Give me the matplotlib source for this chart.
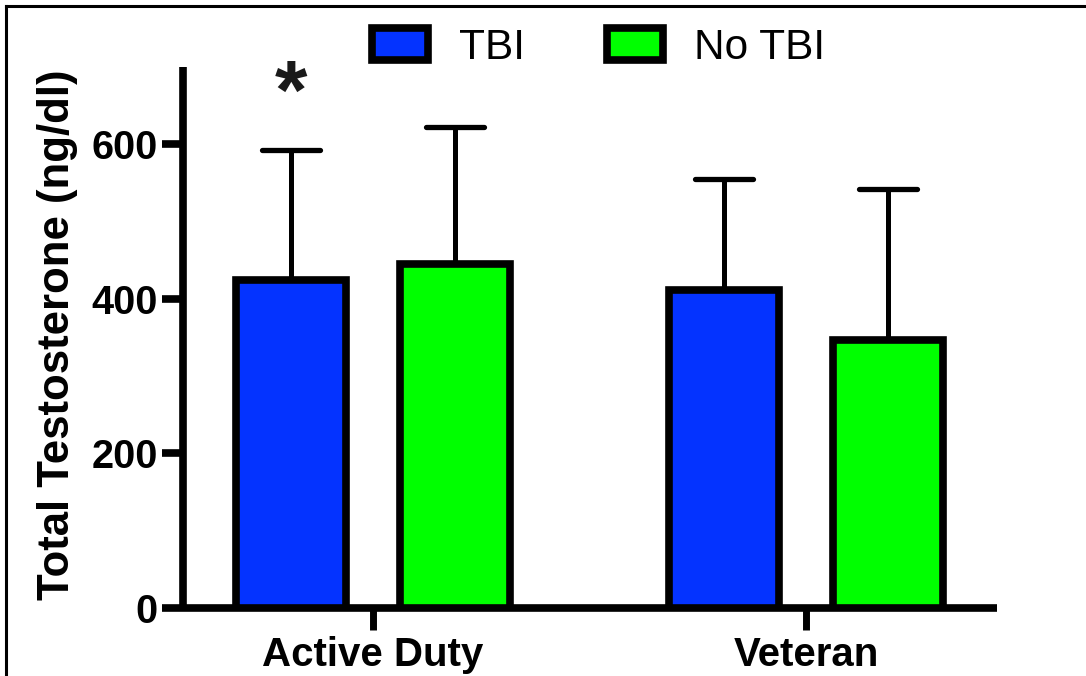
import matplotlib
matplotlib.use("Agg")
import matplotlib.pyplot as plt
import numpy as np
from matplotlib.lines import Line2D
from matplotlib.markers import MarkerStyle

plt.rcParams.update({"font.family": "Liberation Sans"})

GROUPS = ["Active Duty", "Veteran"]
SERIES = ["TBI", "No TBI"]
MEANS = {"TBI": [424, 411], "No TBI": [445, 347]}
ERR_UP = {"TBI": [168, 144], "No TBI": [177, 195]}
COLORS = {"TBI": "#0433ff", "No TBI": "#00ff00"}
YTICKS = [0, 200, 400, 600]

fig = plt.figure(figsize=(10.86, 6.76), dpi=100)
ax = fig.add_axes([0.1685, 0.1006, 0.7495, 0.8003])

x = np.arange(len(GROUPS))
off, w = 0.189, 0.254
for k, s in enumerate(SERIES):
    xs = x + (k * 2 - 1) * off
    ax.bar(xs, MEANS[s], width=w, color=COLORS[s], edgecolor="black",
           linewidth=5.5, label=s, zorder=3)
    _, caps, _ = ax.errorbar(xs, MEANS[s],
                             yerr=[np.zeros(len(xs)), ERR_UP[s]],
                             fmt="none", ecolor="black", elinewidth=3.6,
                             capsize=21, capthick=3.8, zorder=2)
    for c in caps:
        c.set_marker(MarkerStyle("_", capstyle="round"))

# significance marker over Active Duty / TBI
ax.text(x[0] - off, 633, "*", ha="center", va="baseline", fontsize=60,
        fontweight="bold", color="#1a1a1a")

ax.set_xlim(-0.439, 1.441)
ax.set_ylim(0, 700)
ax.set_xticks(x)
ax.set_xticklabels(GROUPS, fontsize=29, fontweight="bold")
ax.set_yticks(YTICKS)
ax.set_yticklabels([str(v) for v in YTICKS], fontsize=28.5, fontweight="bold")
ax.tick_params(axis="y", length=15, width=5.5, pad=3)
ax.tick_params(axis="x", length=16, width=5, pad=4)
for side in ["top", "right"]:
    ax.spines[side].set_visible(False)
for side in ["left", "bottom"]:
    ax.spines[side].set_linewidth(5.5)
    ax.spines[side].set_capstyle("butt")

ax.set_ylabel("Total Testosterone (ng/dl)", fontsize=31.5, fontweight="bold")
ax.yaxis.set_label_coords(-0.129, 0.505)

fig.legend(loc="center", bbox_to_anchor=(0.551, 0.929), ncol=2,
           frameon=False, fontsize=30.5, handlelength=1.32, handleheight=0.8,
           handletextpad=0.72, columnspacing=1.95, borderpad=0,
           borderaxespad=0)

# partial frame (left + top) like the cropped original
fig.add_artist(Line2D([5.5 / 1086, 5.5 / 1086], [0, 1 - 5.5 / 676],
                      color="black", linewidth=2.2,
                      transform=fig.transFigure))
fig.add_artist(Line2D([5.5 / 1086, 1], [1 - 5.5 / 676, 1 - 5.5 / 676],
                      color="black", linewidth=2.2,
                      transform=fig.transFigure))

fig.savefig("out.png", dpi=100, facecolor="white")
